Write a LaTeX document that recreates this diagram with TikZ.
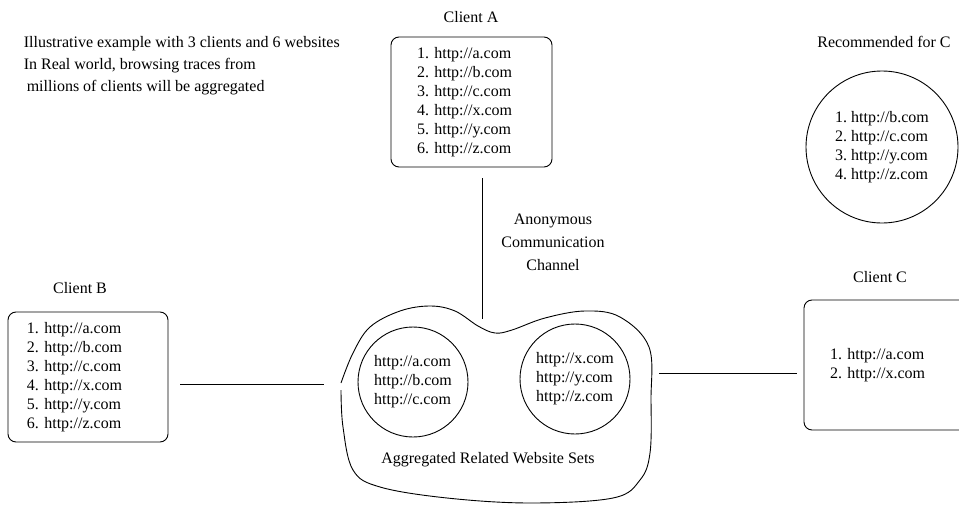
\documentclass[tikz,border=0pt]{standalone}
\usepackage{fontspec}
\setmainfont{Liberation Serif}
\frenchspacing
\usetikzlibrary{positioning}

\begin{document}
\begin{tikzpicture}[x=1pt,y=-1pt, line width=0.9pt]
	\tikzset{txt/.style = {font=\fontsize{16}{19}\selectfont}}
	\tikzset{client/.style = {txt, draw, rounded corners=8pt, align=left,
			minimum height=130pt, inner ysep=0pt}}
	\tikzset{urlset/.style = {txt, shape=circle, draw, align=left,
			inner sep=0pt}}
	\tikzset{link/.style = {line width=0.9pt}}
	\useasboundingbox (0,0) rectangle (959,506);

	% notes
	\node[anchor=west, align=left, font=\fontsize{16}{22}\selectfont] (note) at (20,66)
		{Illustrative example with 3 clients and 6 websites\\
		 In Real world, browsing traces from\\
		 \hspace{3pt}millions of clients will be aggregated};
	\node[txt, align=center, font=\fontsize{16}{23}\selectfont] (chan) at (553,242)
		{Anonymous\\Communication\\Channel};

	% clients
	\node[txt] (labA) at (471,17) {Client A};
	\node[client, inner xsep=26pt, text width=109pt] (cliA) at (471.5,102)
		{1. http://a.com\\2. http://b.com\\3. http://c.com\\4. http://x.com\\5. http://y.com\\6. http://z.com};
	\node[txt] (labB) at (80,288) {Client B};
	\node[client, inner xsep=19pt, text width=122pt] (cliB) at (88,377)
		{1. http://a.com\\2. http://b.com\\3. http://c.com\\4. http://x.com\\5. http://y.com\\6. http://z.com};
	\node[txt] (labC) at (880,277) {Client C};
	\node[client, inner xsep=26pt, text width=134pt] (cliC) at (897,365)
		{1. http://a.com\\2. http://x.com};

	% recommendation
	\node[txt] (labR) at (884,42) {Recommended for C};
	\node[urlset, minimum size=152pt] (rec) at (882,147)
		{1. http://b.com\\2. http://c.com\\3. http://y.com\\4. http://z.com};

	% aggregated sets
	\draw plot[smooth, tension=0.6] coordinates {(341,390) (343,427) (353,470) (380,487)
		(447,498) (530,503) (613,498) (640,480) (650,453) (651,400) (649,347) (620,317)
		(585,311) (545,318) (512,330) (495,333) (478,326) (455,311) (430,306) (400,311)
		(370,327) (353,353) (341,383)};
	\node[urlset, minimum size=110pt] (setL) at (413,382)
		{http://a.com\\http://b.com\\http://c.com};
	\node[urlset, minimum size=110pt] (setR) at (575,379)
		{http://x.com\\http://y.com\\http://z.com};
	\node[txt] (agg) at (488,460) {Aggregated Related Website Sets};

	% edges
	\coordinate (aTop) at (482,178);
	\coordinate (aBot) at (482,319);
	\coordinate (bL) at (180,384);
	\coordinate (bR) at (324,384);
	\coordinate (cL) at (659,373);
	\coordinate (cR) at (797,373);
	\draw[link] (aTop) -- (aBot);
	\draw[link] (bL) -- (bR);
	\draw[link] (cL) -- (cR);
\end{tikzpicture}
\end{document}
